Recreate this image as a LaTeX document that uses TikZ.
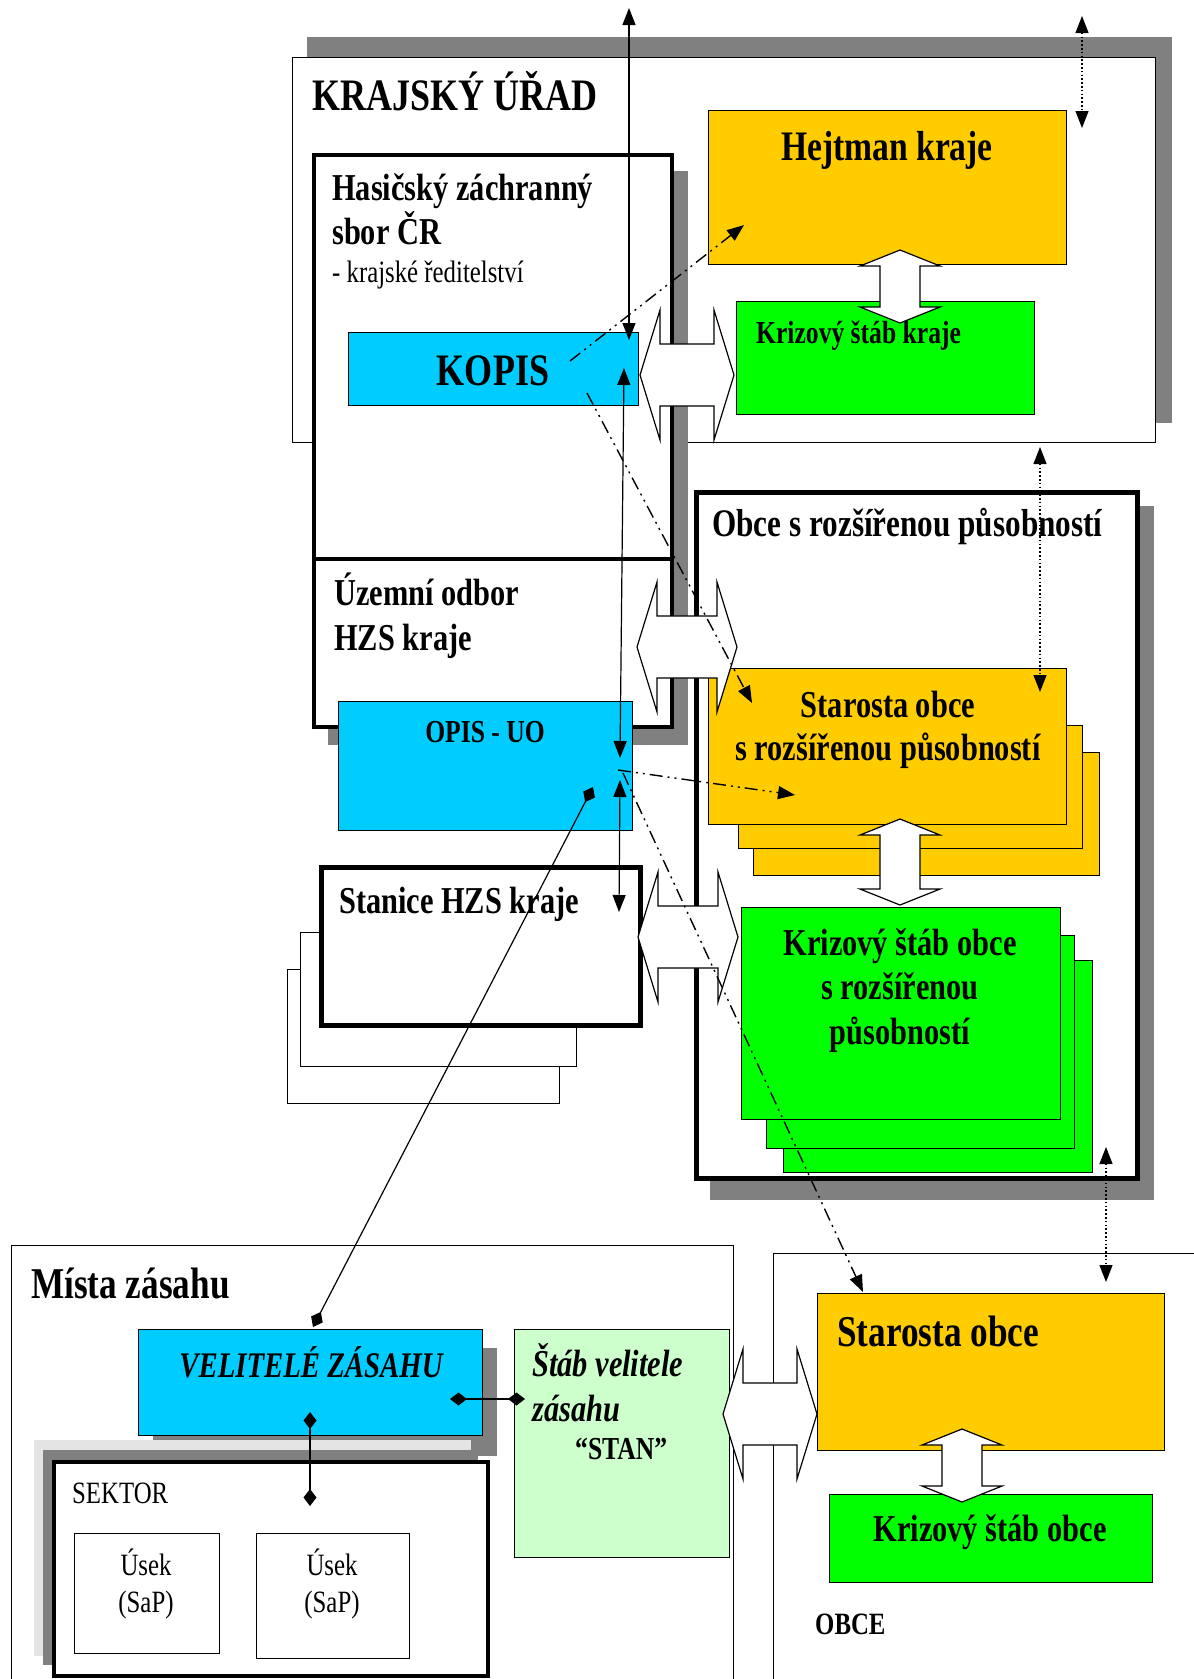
\documentclass[tikz,border=0pt]{standalone}
\usepackage{fontspec}
\setmainfont{Liberation Serif}[FakeStretch=0.8]
\usetikzlibrary{arrows.meta}
\definecolor{kopisblue}{HTML}{00CCFF}
\definecolor{leaderorange}{HTML}{FFCC00}
\definecolor{staffgreen}{HTML}{00FF00}
\definecolor{stangreen}{HTML}{CCFFCC}
\definecolor{shadowgray}{HTML}{808080}
\definecolor{palegray}{HTML}{E4E4E4}

\newcommand{\fsz}[1]{\fontsize{#1}{#1}\selectfont}
% horizontal block arrow: x1, x2, y
\newcommand{\blockH}[3]{%
  \draw[blockarrow] (#1,#3) -- ({#1+20},{#3-65}) -- ({#1+20},{#3-31}) -- ({#2-20},{#3-31})
    -- ({#2-20},{#3-65}) -- (#2,#3) -- ({#2-20},{#3+65}) -- ({#2-20},{#3+31})
    -- ({#1+20},{#3+31}) -- ({#1+20},{#3+65}) -- cycle;}
% vertical block arrow: x, y1, y2
\newcommand{\blockV}[3]{%
  \draw[blockarrow] (#1,#2) -- ({#1+40},{#2+16}) -- ({#1+20},{#2+16}) -- ({#1+20},{#3-16})
    -- ({#1+40},{#3-16}) -- (#1,#3) -- ({#1-40},{#3-16}) -- ({#1-20},{#3-16})
    -- ({#1-20},{#2+16}) -- ({#1-40},{#2+16}) -- cycle;}

\begin{document}
\begin{tikzpicture}[x=1pt, y=-1pt,
  shadowbox/.style={fill=shadowgray, draw=none, inner sep=0pt, anchor=north west},
  box/.style={draw, line width=1.2pt, fill=white, inner sep=0pt, anchor=north west},
  heavybox/.style={box, line width=4pt},
  txt/.style={inner sep=0pt, anchor=base west},
  ctxt/.style={inner sep=0pt, anchor=base},
  blockarrow/.style={draw, line width=1.2pt, fill=white, line join=miter},
  link/.style={line width=1.2pt, {Triangle[length=17pt,width=13pt]}-{Triangle[length=17pt,width=13pt]}},
  dotlink/.style={link, dash pattern=on 1.6pt off 2.2pt},
  dashlink/.style={line width=1.4pt, -{Triangle[length=17pt,width=13pt]},
    dash pattern=on 13pt off 5pt on 2pt off 5pt on 2pt off 5pt},
  rellink/.style={line width=1.2pt, {Diamond[length=17pt,width=13pt]}-{Diamond[length=17pt,width=13pt]}}
]
  \useasboundingbox (0,0) rectangle (1194,1679);

  % Krajsky urad
  \node[shadowbox, minimum width=865pt, minimum height=386pt] (krajShadow) at (307,37) {};
  \node[box, minimum width=863pt, minimum height=385pt] (kraj) at (292,57) {};
  \node[txt, font=\fsz{45}\bfseries] (krajT) at (312,110) {KRAJSKÝ ÚŘAD};
  \node[box, fill=leaderorange, minimum width=358pt, minimum height=154pt] (hejtman) at (708,110) {};
  \node[ctxt, font=\fsz{42}\bfseries] (hejtmanT) at (887,160) {Hejtman kraje};
  \node[box, fill=staffgreen, minimum width=298pt, minimum height=113pt] (kskraje) at (736,301) {};
  \node[txt, font=\fsz{32}\bfseries] (kskrajeT) at (756,343) {Krizový štáb kraje};
  \blockV{900}{250}{323}

  % Obce s rozsirenou pusobnosti
  \node[shadowbox, minimum width=444pt, minimum height=694pt] (orpShadow) at (710,506) {};
  \node[heavybox, line width=4.5pt, minimum width=441pt, minimum height=686pt] (orp) at (694,490) {};
  \node[txt, font=\fsz{39}\bfseries] (orpT) at (712,536) {Obce s rozšířenou působností};
  \node[box, fill=leaderorange, minimum width=346pt, minimum height=123pt] (orpLead3) at (753,752) {};
  \node[box, fill=leaderorange, minimum width=344pt, minimum height=123pt] (orpLead2) at (738,725) {};
  \node[box, fill=leaderorange, minimum width=358pt, minimum height=156pt] (orpLead) at (708,668) {};
  \node[ctxt, font=\fsz{38}\bfseries] (orpLeadT1) at (888,717) {Starosta obce};
  \node[ctxt, font=\fsz{38}\bfseries] (orpLeadT2) at (888,760) {s rozšířenou působností};
  \node[box, fill=staffgreen, minimum width=309pt, minimum height=212pt] (orpStaff3) at (783,960) {};
  \node[box, fill=staffgreen, minimum width=308pt, minimum height=213pt] (orpStaff2) at (766,935) {};
  \node[box, fill=staffgreen, minimum width=319pt, minimum height=212pt] (orpStaff) at (741,907) {};
  \node[ctxt, font=\fsz{38}\bfseries] (orpStaffT1) at (900,955) {Krizový štáb obce};
  \node[ctxt, font=\fsz{38}\bfseries] (orpStaffT2) at (900,999) {s rozšířenou};
  \node[ctxt, font=\fsz{38}\bfseries] (orpStaffT3) at (900,1044) {působností};
  \blockV{900}{819}{905}

  % HZS kraje
  \node[shadowbox, minimum width=360pt, minimum height=574pt] (hzsShadow) at (328,171) {};
  \node[heavybox, minimum width=358pt, minimum height=404pt] (hzs) at (312,153) {};
  \node[heavybox, minimum width=358pt, minimum height=168pt] (uo) at (312,557) {};
  \node[txt, font=\fsz{38}\bfseries] (hzsT1) at (332,200) {Hasičský záchranný};
  \node[txt, font=\fsz{38}\bfseries] (hzsT2) at (332,244) {sbor ČR};
  \node[txt, font=\fsz{31}] (hzsT3) at (332,282) {- krajské ředitelství};
  \node[txt, font=\fsz{38}\bfseries] (uoT1) at (334,605) {Územní odbor};
  \node[txt, font=\fsz{38}\bfseries] (uoT2) at (334,650) {HZS kraje};
  \node[box, fill=kopisblue, minimum width=290pt, minimum height=73pt] (kopis) at (348,332) {};
  \node[ctxt, font=\fsz{45}\bfseries] (kopisT) at (493,385) {KOPIS};
  \node[box, fill=kopisblue, minimum width=294pt, minimum height=129pt] (opis) at (338,701) {};
  \node[ctxt, font=\fsz{32}\bfseries] (opisT) at (485,742) {OPIS - UO};

  % Stanice
  \node[box, minimum width=272pt, minimum height=134pt] (stanice3) at (287,969) {};
  \node[box, minimum width=276pt, minimum height=134pt] (stanice2) at (300,932) {};
  \node[heavybox, line width=5pt, minimum width=319pt, minimum height=158pt] (stanice) at (319,865) {};
  \node[txt, font=\fsz{38}\bfseries] (staniceT) at (339,913) {Stanice HZS kraje};

  \blockH{640}{734}{375}
  \blockH{637}{737}{647}
  \blockH{638}{738}{937}

  % Mista zasahu
  \node[box, minimum width=722pt, minimum height=450pt] (mista) at (11,1245) {};
  \node[txt, font=\fsz{44}\bfseries] (mistaT) at (31,1298) {Místa zásahu};
  \node[shadowbox, minimum width=344pt, minimum height=108pt] (velShadow) at (153,1348) {};
  \node[box, fill=kopisblue, minimum width=344pt, minimum height=106pt] (velitele) at (138,1329) {};
  \node[ctxt, font=\fsz{36}\bfseries\itshape] (veliteleT) at (311,1377) {VELITELÉ ZÁSAHU};
  \node[shadowbox, fill=palegray, minimum width=437pt, minimum height=216pt] (sektorPale) at (34,1440) {};
  \node[shadowbox, minimum width=435pt, minimum height=215pt] (sektorShadow) at (43,1450) {};
  \node[heavybox, minimum width=434pt, minimum height=214pt] (sektor) at (52,1460) {};
  \node[txt, font=\fsz{31}] (sektorT) at (72,1503) {SEKTOR};
  \node[box, minimum width=145pt, minimum height=120pt] (usek1) at (74,1533) {};
  \node[ctxt, font=\fsz{31}] (usek1T1) at (146,1575) {Úsek};
  \node[ctxt, font=\fsz{31}] (usek1T2) at (146,1612) {(SaP)};
  \node[box, minimum width=153pt, minimum height=125pt] (usek2) at (256,1533) {};
  \node[ctxt, font=\fsz{31}] (usek2T1) at (332,1575) {Úsek};
  \node[ctxt, font=\fsz{31}] (usek2T2) at (332,1612) {(SaP)};
  \node[box, fill=stangreen, minimum width=215pt, minimum height=228pt] (stab) at (514,1329) {};
  \node[txt, font=\fsz{38}\bfseries\itshape] (stabT1) at (532,1376) {Štáb velitele};
  \node[txt, font=\fsz{38}\bfseries\itshape] (stabT2) at (532,1421) {zásahu};
  \node[txt, font=\fsz{32}\bfseries] (stabT3) at (575,1459) {“STAN”};

  % Obce
  \node[box, minimum width=440pt, minimum height=450pt] (obce) at (773,1253) {};
  \node[box, fill=leaderorange, minimum width=347pt, minimum height=157pt] (starosta) at (817,1293) {};
  \node[txt, font=\fsz{44}\bfseries] (starostaT) at (837,1346) {Starosta obce};
  \node[box, fill=staffgreen, minimum width=323pt, minimum height=88pt] (ksobce) at (829,1494) {};
  \node[ctxt, font=\fsz{38}\bfseries] (ksobceT) at (990,1541) {Krizový štáb obce};
  \node[txt, font=\fsz{31}\bfseries] (obceT) at (815,1634) {OBCE};
  \blockV{962}{1429}{1502}
  \blockH{723}{817}{1414}

  % Links
  \coordinate (upEnd) at (629,8);
  \coordinate (kopisTop) at (629,340);
  \coordinate (extTop) at (1082,16);
  \coordinate (extBot) at (1082,128);
  \coordinate (krajBot) at (1040,447);
  \coordinate (orpLeadTop) at (1040,692);
  \coordinate (orpBot) at (1106,1147);
  \coordinate (starostaTop) at (1106,1282);
  \coordinate (kopisUp) at (624,368);
  \coordinate (opisDown) at (620,758);
  \coordinate (opisUp) at (620,780);
  \coordinate (staniceDown) at (619,912);
  \draw[link] (upEnd) -- (kopisTop);
  \draw[link] (kopisUp) -- (opisDown);
  \draw[link] (opisUp) -- (staniceDown);
  \draw[dotlink] (extTop) -- (extBot);
  \draw[dotlink] (krajBot) -- (orpLeadTop);
  \draw[dotlink] (orpBot) -- (starostaTop);

  \coordinate (kopisOut1) at (570,361);
  \coordinate (hejtmanIn) at (744,225);
  \coordinate (kopisOut2) at (587,393);
  \coordinate (orpLeadIn1) at (752,703);
  \coordinate (opisOut1) at (618,770);
  \coordinate (orpLeadIn2) at (795,795);
  \coordinate (opisOut2) at (623,773);
  \coordinate (starostaIn) at (863,1292);
  \draw[dashlink] (kopisOut1) -- (hejtmanIn);
  \draw[dashlink] (kopisOut2) -- (orpLeadIn1);
  \draw[dashlink] (opisOut1) -- (orpLeadIn2);
  \draw[dashlink] (opisOut2) -- (starostaIn);

  \coordinate (opisCmd) at (593,787);
  \coordinate (velTop) at (313,1327);
  \coordinate (velRight) at (450,1399);
  \coordinate (stabLeft) at (525,1399);
  \coordinate (velLow) at (310,1412);
  \coordinate (sektorTop) at (310,1506);
  \draw[rellink] (opisCmd) -- (velTop);
  \draw[rellink] (velRight) -- (stabLeft);
  \draw[rellink] (velLow) -- (sektorTop);
\end{tikzpicture}
\end{document}
